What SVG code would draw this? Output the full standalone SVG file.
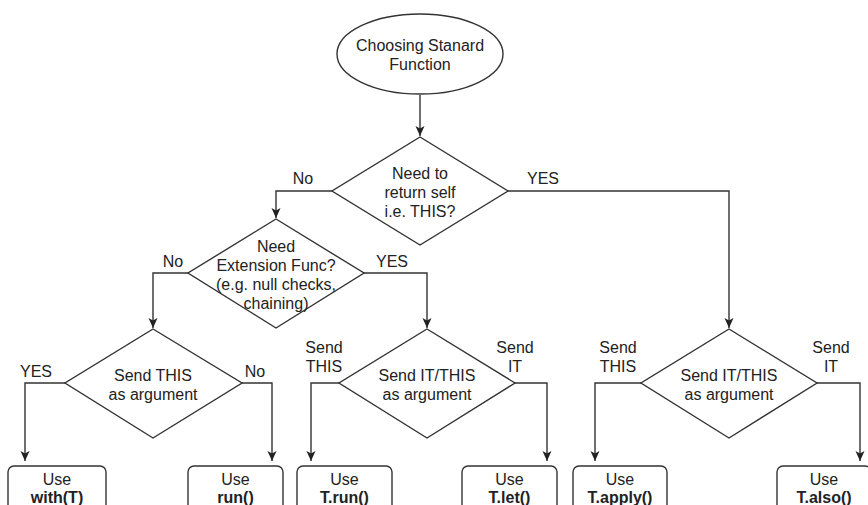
<svg xmlns="http://www.w3.org/2000/svg" width="868" height="505" viewBox="0 0 868 505">
  <defs>
    <marker id="arrow" markerUnits="userSpaceOnUse" markerWidth="12" markerHeight="12" refX="10" refY="5" orient="auto">
      <path d="M0,0.5 L10,5 L0,9.5 L2.5,5 Z" fill="#222" stroke="none"/>
    </marker>
    <style>
      .shape { fill: #fff; stroke: #333; stroke-width: 1.4; }
      .edge { fill: none; stroke: #333; stroke-width: 1.4; marker-end: url(#arrow); }
      text { font-family: "Liberation Sans", Arial, sans-serif; font-size: 16px; fill: #222; text-anchor: middle; }
      .bold { font-weight: bold; }
    </style>
  </defs>
  <rect width="868" height="505" fill="#fff"/>

  <!-- connectors -->
  <g id="connectors">
    <path class="edge" d="M420,95 L420,136"/>
    <path class="edge" d="M332,191 L276,191 L276,218"/>
    <path class="edge" d="M508,191 L729,191 L729,328"/>
    <path class="edge" d="M188,273 L153,273 L153,328"/>
    <path class="edge" d="M364,273 L427,273 L427,328"/>
    <path class="edge" d="M65,383 L25,383 L25,461"/>
    <path class="edge" d="M242,383 L272,383 L272,461"/>
    <path class="edge" d="M339,383 L311,383 L311,461"/>
    <path class="edge" d="M515,383 L547,383 L547,461"/>
    <path class="edge" d="M641,383 L595,383 L595,461"/>
    <path class="edge" d="M817,383 L860,383 L860,461"/>
  </g>

  <!-- edge labels -->
  <g id="edge-labels">
    <text x="303" y="184">No</text>
    <text x="543" y="184">YES</text>
    <text x="173" y="267">No</text>
    <text x="392" y="267">YES</text>
    <text x="36" y="377">YES</text>
    <text x="255" y="377">No</text>
    <text x="324" y="353">Send</text>
    <text x="324" y="372">THIS</text>
    <text x="515" y="353">Send</text>
    <text x="515" y="372">IT</text>
    <text x="618" y="353">Send</text>
    <text x="618" y="372">THIS</text>
    <text x="831" y="353">Send</text>
    <text x="831" y="372">IT</text>
  </g>

  <g id="start">
    <ellipse class="shape" cx="420" cy="54" rx="83" ry="40"/>
    <text x="420" y="51">Choosing Stanard</text>
    <text x="420" y="70">Function</text>
  </g>

  <g id="return-self">
    <polygon class="shape" points="420,137 508,191 420,245 332,191"/>
    <text x="420" y="179">Need to</text>
    <text x="420" y="198">return self</text>
    <text x="420" y="217">i.e. THIS?</text>
  </g>

  <g id="extension-func">
    <polygon class="shape" points="276,219 364,273 276,328 188,273"/>
    <text x="276" y="252">Need</text>
    <text x="276" y="271">Extension Func?</text>
    <text x="276" y="290">(e.g. null checks,</text>
    <text x="276" y="309">chaining)</text>
  </g>

  <g id="send-this">
    <polygon class="shape" points="153,329 242,383 153,438 65,383"/>
    <text x="153" y="381">Send THIS</text>
    <text x="153" y="400">as argument</text>
  </g>

  <g id="send-it-this-ext">
    <polygon class="shape" points="427,329 515,383 427,438 339,383"/>
    <text x="427" y="381">Send IT/THIS</text>
    <text x="427" y="400">as argument</text>
  </g>

  <g id="send-it-this-self">
    <polygon class="shape" points="729,329 817,383 729,438 641,383"/>
    <text x="729" y="381">Send IT/THIS</text>
    <text x="729" y="400">as argument</text>
  </g>

  <g id="use-with">
    <rect class="shape" x="8" y="466" width="98" height="60" rx="6"/>
    <text x="57" y="485">Use</text>
    <text class="bold" x="57" y="503">with(T)</text>
  </g>

  <g id="use-run">
    <rect class="shape" x="188" y="466" width="95" height="60" rx="6"/>
    <text x="235.5" y="485">Use</text>
    <text class="bold" x="235.5" y="503">run()</text>
  </g>

  <g id="use-t-run">
    <rect class="shape" x="297" y="466" width="95" height="60" rx="6"/>
    <text x="344.5" y="485">Use</text>
    <text class="bold" x="344.5" y="503">T.run()</text>
  </g>

  <g id="use-t-let">
    <rect class="shape" x="462" y="466" width="95" height="60" rx="6"/>
    <text x="509.5" y="485">Use</text>
    <text class="bold" x="509.5" y="503">T.let()</text>
  </g>

  <g id="use-t-apply">
    <rect class="shape" x="573" y="466" width="94" height="60" rx="6"/>
    <text x="620" y="485">Use</text>
    <text class="bold" x="620" y="503">T.apply()</text>
  </g>

  <g id="use-t-also">
    <rect class="shape" x="777" y="466" width="94" height="60" rx="6"/>
    <text x="824" y="485">Use</text>
    <text class="bold" x="824" y="503">T.also()</text>
  </g>
</svg>
